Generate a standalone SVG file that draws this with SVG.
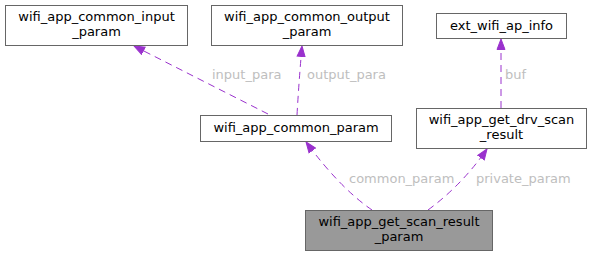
<svg xmlns="http://www.w3.org/2000/svg" width="592" height="256" viewBox="0 0 592 256">
<style>
.node rect{fill:#ffffff;stroke:#666666;stroke-width:1}
.node.main rect{fill:#999999}
.node text{font-family:"DejaVu Sans",sans-serif;font-size:13px;fill:#000000;text-anchor:middle}
.edge{fill:none;stroke:#9a32cd;stroke-width:1;stroke-dasharray:7,5}
.lbl{font-family:"DejaVu Sans",sans-serif;font-size:13px;fill:#bebebe}
</style>
<defs>
<marker id="ah" markerWidth="12" markerHeight="10" refX="11" refY="5" orient="auto" markerUnits="userSpaceOnUse">
<path d="M0.5,1 L11,5 L0.5,9 Z" fill="#9a32cd" stroke="#9a32cd" stroke-width="1"/>
</marker>
</defs>
<rect width="592" height="256" fill="#ffffff"/>
<g id="connectors">
<path class="edge" d="M268,114 L134,46" marker-end="url(#ah)"/>
<text class="lbl" x="212" y="79">input_para</text>
<path class="edge" d="M297,115 Q299,80 302,46" marker-end="url(#ah)"/>
<text class="lbl" x="307" y="79">output_para</text>
<path class="edge" d="M501,108 L501,39" marker-end="url(#ah)"/>
<text class="lbl" x="505" y="79">buf</text>
<path class="edge" d="M372,210 Q340,188 306,142" marker-end="url(#ah)"/>
<text class="lbl" x="349" y="183">common_param</text>
<path class="edge" d="M428,210 Q462,185 487,149" marker-end="url(#ah)"/>
<text class="lbl" x="476" y="183">private_param</text>
</g>
<g id="node_input" class="node">
<rect x="5.5" y="5.5" width="182" height="40"/>
<text x="96.5" y="21">wifi_app_common_input</text>
<text x="96.5" y="36">_param</text>
</g>
<g id="node_output" class="node">
<rect x="211.5" y="5.5" width="191" height="40"/>
<text x="307" y="21">wifi_app_common_output</text>
<text x="307" y="36">_param</text>
</g>
<g id="node_ext" class="node">
<rect x="436.5" y="13.5" width="130" height="25"/>
<text x="501.5" y="30">ext_wifi_ap_info</text>
</g>
<g id="node_common" class="node">
<rect x="200.5" y="115.5" width="191" height="26"/>
<text x="296" y="132">wifi_app_common_param</text>
</g>
<g id="node_drv" class="node">
<rect x="416.5" y="108.5" width="170" height="40"/>
<text x="501.5" y="124">wifi_app_get_drv_scan</text>
<text x="501.5" y="139">_result</text>
</g>
<g id="node_main" class="node main">
<rect x="305.5" y="210.5" width="187" height="40"/>
<text x="399" y="226">wifi_app_get_scan_result</text>
<text x="399" y="241">_param</text>
</g>
</svg>
